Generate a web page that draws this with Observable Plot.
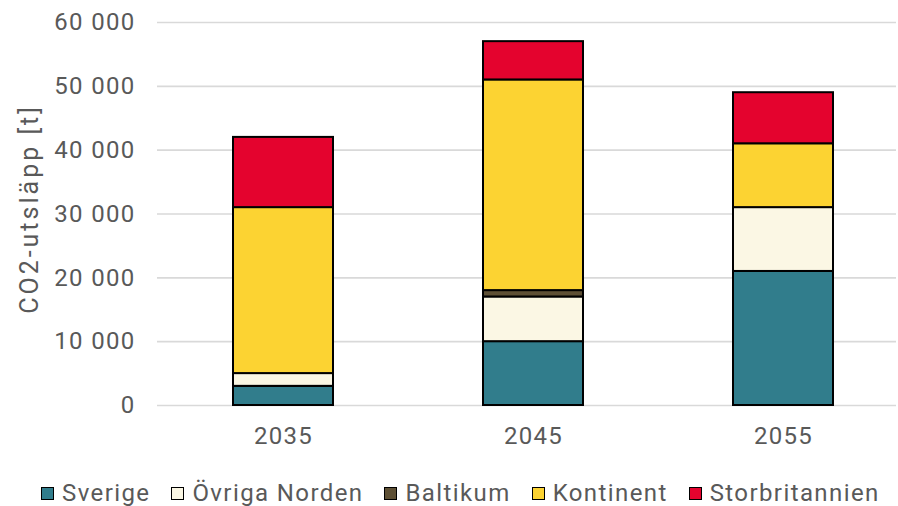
<!DOCTYPE html>
<html>
<head>
<meta charset="utf-8">
<script src="https://cdn.jsdelivr.net/npm/d3@7"></script>
<script src="https://cdn.jsdelivr.net/npm/@observablehq/plot@0.6"></script>
<style>
  html, body { margin: 0; padding: 0; background: #fff; }
  body { width: 898px; height: 506px; overflow: hidden; position: relative; font-family: Roboto, "Noto Sans", sans-serif; }
  #legend { position: absolute; left: 41px; top: 481px; display: flex; align-items: center; height: 25px; line-height: 25px; font-size: 24px; letter-spacing: 1.4px; color: #595959; white-space: nowrap; }
  .item { display: flex; align-items: center; margin-right: 21px; }
  .sw { width: 11px; height: 11px; border: 1.5px solid #000; margin-right: 8px; box-sizing: content-box; }
</style>
</head>
<body>
<div id="chart"></div>
<div id="legend"></div>
<script>
const years = ["2035", "2045", "2055"];
const regions = ["Sverige", "Övriga Norden", "Baltikum", "Kontinent", "Storbritannien"];
const colors = ["#317D8C", "#FBF7E4", "#5E5035", "#FCD332", "#E4032E"];
const sverige = [3000, 10000, 21000];
const ovrigaNorden = [2000, 7000, 10000];
const baltikum = [0, 1000, 0];
const kontinent = [26000, 33000, 10000];
const storbritannien = [11000, 6000, 8000];
const yTicks = [0, 10000, 20000, 30000, 40000, 50000, 60000];

const series = [sverige, ovrigaNorden, baltikum, kontinent, storbritannien];
const data = [];
years.forEach((y, i) => {
  regions.forEach((r, j) => {
    data.push({year: y, region: r, value: series[j][i]});
  });
});

const fmt = d => d3.format(",")(d).replace(/,/g, " ");

const chart = Plot.plot({
  width: 898,
  height: 470,
  marginLeft: 157,
  marginRight: 2,
  marginTop: 22,
  marginBottom: 65,
  style: { fontFamily: "Roboto, 'Noto Sans', sans-serif", fontSize: "24px", letterSpacing: "1.3px", color: "#595959", background: "#fff" },
  x: { domain: years, range: [158, 908], paddingInner: 0.6, paddingOuter: 0.3, label: null, tickSize: 0, tickPadding: 21 },
  y: { domain: [0, 60000], ticks: yTicks, tickFormat: fmt, label: null, tickSize: 0, tickPadding: 22 },
  color: { domain: regions, range: colors },
  marks: [
    Plot.ruleY(yTicks, { stroke: "#d9d9d9", strokeWidth: 1.6 }),
    Plot.barY(data, Plot.stackY({ order: regions }, { x: "year", y: "value", fill: "region", stroke: "#000", strokeWidth: 2 })),
    Plot.text(["CO2-utsläpp [t]"], { frameAnchor: "left", dx: -128, dy: -5, rotate: -90, textAnchor: "middle", lineAnchor: "middle", fontSize: 25, fill: "#595959", className: "ylabel" })
  ]
});
d3.select(chart).selectAll(".ylabel text").style("letter-spacing", "3px");
document.getElementById("chart").appendChild(chart);

const legend = document.getElementById("legend");
regions.forEach((r, i) => {
  const item = document.createElement("div");
  item.className = "item";
  const sw = document.createElement("div");
  sw.className = "sw";
  sw.style.background = colors[i];
  const t = document.createElement("span");
  t.textContent = r;
  item.appendChild(sw);
  item.appendChild(t);
  legend.appendChild(item);
});
</script>
</body>
</html>
